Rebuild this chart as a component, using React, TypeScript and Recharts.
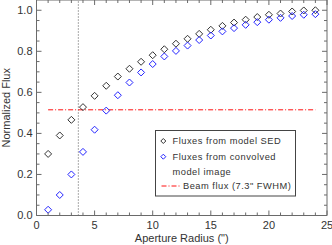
import { ScatterChart, Scatter, XAxis, YAxis, ReferenceLine, Legend } from "recharts"

const radius = [1, 2, 3, 4, 5, 6, 7, 8, 9, 10, 11, 12, 13, 14, 15, 16, 17, 18, 19, 20, 21, 22, 23, 24]
const sedFlux = [0.30, 0.39, 0.466, 0.528, 0.583, 0.632, 0.677, 0.715, 0.749, 0.781, 0.81, 0.837, 0.861, 0.885, 0.905, 0.924, 0.94, 0.954, 0.967, 0.978, 0.984, 0.994, 0.999, 1.0]
const convFlux = [0.028, 0.10, 0.20, 0.31, 0.418, 0.511, 0.586, 0.648, 0.697, 0.738, 0.775, 0.802, 0.828, 0.855, 0.877, 0.897, 0.913, 0.929, 0.942, 0.954, 0.963, 0.972, 0.978, 0.981]
const beamFlux = 0.515
const beamRange = [1, 24]
const fwhmRadius = 3.6
const xTicks = [0, 1, 2, 3, 4, 5, 6, 7, 8, 9, 10, 11, 12, 13, 14, 15, 16, 17, 18, 19, 20, 21, 22, 23, 24, 25]
const yTicks = [0, 0.05, 0.1, 0.15, 0.2, 0.25, 0.3, 0.35, 0.4, 0.45, 0.5, 0.55, 0.6, 0.65, 0.7, 0.75, 0.8, 0.85, 0.9, 0.95, 1.0]
const labels = {
  sed: "Fluxes from model SED",
  conv1: "Fluxes from convolved",
  conv2: "model image",
  beam: 'Beam flux (7.3" FWHM)',
}

const sedData = radius.map((r, i) => ({ r, f: sedFlux[i] }))
const convData = radius.map((r, i) => ({ r, f: convFlux[i] }))

const W = 332
const H = 245
const LEFT = 36.5
const RIGHT = 327
const TOP = 0
const BOTTOM = 215.5
const AXIS = "#6a6a6a"
const TEXT = "#333"
const BLACK_PT = "#333"
const BLUE_PT = "#2424ff"
const RED = "#ff1010"
const FONT = "'Liberation Sans', Arial, sans-serif"

const diamond = (color: string, s = 3.5) => (props: any) => {
  const { cx, cy } = props
  return (
    <polygon
      points={`${cx},${cy - s} ${cx + s},${cy} ${cx},${cy + s} ${cx - s},${cy}`}
      fill="none"
      stroke={color}
      strokeWidth={1}
    />
  )
}

const XTick = (props: any) => {
  const { x, y, payload } = props
  const v = payload.value
  const major = v % 5 === 0
  const len = major ? 5 : 3
  return (
    <g>
      <line x1={x} x2={x} y1={BOTTOM} y2={BOTTOM - len} stroke={AXIS} />
      <line x1={x} x2={x} y1={TOP} y2={TOP + len} stroke={AXIS} />
      {major && (
        <text x={x} y={y} dy="0.71em" textAnchor="middle" fontSize={11} fill={TEXT} fontFamily={FONT}>
          {v}
        </text>
      )}
    </g>
  )
}

const YTick = (props: any) => {
  const { x, y, payload } = props
  const v = payload.value
  const major = Math.round(v * 100) % 20 === 0
  const len = major ? 5 : 3
  return (
    <g>
      <line x1={LEFT} x2={LEFT + len} y1={y} y2={y} stroke={AXIS} />
      <line x1={RIGHT} x2={RIGHT - len} y1={y} y2={y} stroke={AXIS} />
      {major && (
        <text x={x} y={y} dy="0.355em" textAnchor="end" fontSize={11} fill={TEXT} fontFamily={FONT}>
          {v.toFixed(1)}
        </text>
      )}
    </g>
  )
}

const LegendBox = () => (
  <svg width={141} height={67} style={{ display: "block" }}>
    <rect x={0.5} y={0.5} width={140} height={65.5} fill="white" stroke="#444" />
    <g fontFamily={FONT} fontSize={9.3} fill={TEXT} letterSpacing={0.5}>
      {diamond(BLACK_PT, 2.5)({ cx: 8.3, cy: 11 })}
      <text x={17.5} y={11} dy="0.355em">{labels.sed}</text>
      {diamond(BLUE_PT, 2.5)({ cx: 8.3, cy: 26.7 })}
      <text x={17.5} y={26.7} dy="0.355em">{labels.conv1}</text>
      <text x={17.5} y={41.7} dy="0.355em">{labels.conv2}</text>
      <line x1={6.5} x2={24.5} y1={56} y2={56} stroke={RED} strokeDasharray="5 2 1 2" />
      <text x={28} y={56} dy="0.355em">{labels.beam}</text>
    </g>
  </svg>
)

export default function App() {
  return (
    <div style={{ position: "absolute", left: 0, top: 0, width: W, height: H, background: "white" }}>
      <ScatterChart width={W} height={H} margin={{ top: TOP, right: W - RIGHT, bottom: 0, left: 0 }}>
        <XAxis
          type="number"
          dataKey="r"
          domain={[0, 25]}
          ticks={xTicks}
          interval={0}
          height={H - BOTTOM}
          tickLine={false}
          tickSize={0}
          tickMargin={6}
          stroke={AXIS}
          tick={<XTick />}
          label={{
            position: "insideBottom",
            content: () => (
              <text x={(LEFT + RIGHT) / 2} y={241.5} textAnchor="middle" fontSize={11} fill={TEXT} fontFamily={FONT}>
                Aperture Radius (")
              </text>
            ),
          }}
        />
        <YAxis
          type="number"
          dataKey="f"
          domain={[0, 1.05]}
          ticks={yTicks}
          interval={0}
          width={LEFT}
          tickLine={false}
          tickSize={0}
          tickMargin={4}
          stroke={AXIS}
          tick={<YTick />}
          label={{
            position: "insideLeft",
            content: () => (
              <text
                x={10}
                y={(TOP + BOTTOM) / 2}
                transform={`rotate(-90 10 ${(TOP + BOTTOM) / 2})`}
                textAnchor="middle"
                fontSize={11}
                fill={TEXT}
                fontFamily={FONT}
              >
                Normalized Flux
              </text>
            ),
          }}
        />
        <ReferenceLine y={1.05} stroke={AXIS} />
        <ReferenceLine x={25} stroke={AXIS} />
        <ReferenceLine x={fwhmRadius} stroke="#555" strokeDasharray="1 2" />
        <ReferenceLine
          segment={[
            { x: beamRange[0], y: beamFlux },
            { x: beamRange[1], y: beamFlux },
          ]}
          stroke={RED}
          strokeDasharray="5 2 1 2"
        />
        <Scatter data={sedData} shape={diamond(BLACK_PT)} isAnimationActive={false} />
        <Scatter data={convData} shape={diamond(BLUE_PT)} isAnimationActive={false} />
        <Legend
          layout="horizontal"
          verticalAlign="middle"
          align="center"
          wrapperStyle={{ position: "absolute", left: 155, top: 130, width: 141, height: 67 }}
          content={() => <LegendBox />}
        />
      </ScatterChart>
    </div>
  )
}
